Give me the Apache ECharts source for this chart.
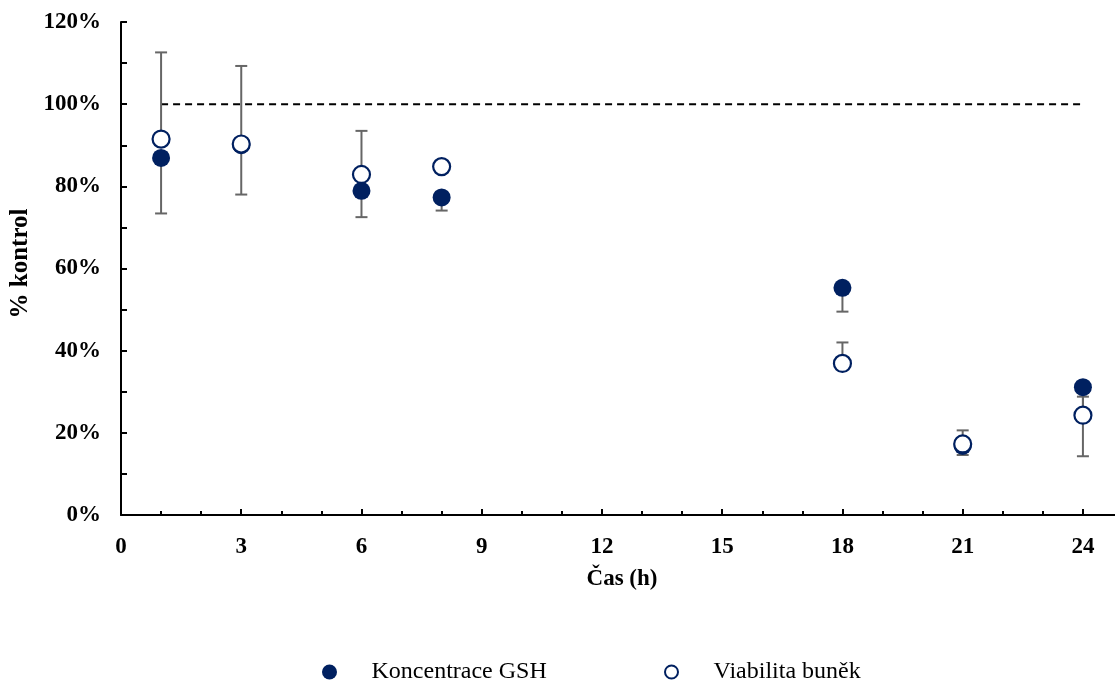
<!DOCTYPE html>
<html>
<head>
<meta charset="utf-8">
<script src="https://cdn.jsdelivr.net/npm/echarts@6/dist/echarts.min.js"></script>
<style>html,body{margin:0;padding:0;background:#fff;overflow:hidden}#chart{width:1115px;height:684px}</style>
</head>
<body>
<div id="chart"></div>
<script>
// Time points (h)
var times = [1, 3, 6, 8, 18, 21, 24];
// Koncentrace GSH (% kontrol) and its (minus) error
var gshValues = [86.9, 90.0, 78.9, 77.3, 55.3, 16.8, 31.1];
var gshErr = [13.5, 12.0, 6.4, 3.2, 5.8, 2.2, 16.8];
// Viabilita buněk (% kontrol) and its (plus) error
var viaValues = [91.5, 90.3, 82.9, 84.8, 36.9, 17.3, 24.3];
var viaErr = [21.1, 19.0, 10.6, 0.8, 5.1, 3.3, 4.5];
// Reference line at 100 %
var refLine = [[1, 100], [24, 100]];
var xTicks = [0, 3, 6, 9, 12, 15, 18, 21, 24];
var yTicks = [0, 20, 40, 60, 80, 100, 120];

var NAVY = '#002060';
var FONT = '"Liberation Serif", "Times New Roman", serif';

function pairs(vals) { return times.map(function (t, i) { return [t, vals[i]]; }); }
var gshBars = times.map(function (t, i) { return [t, gshValues[i], gshValues[i] - gshErr[i]]; });
var viaBars = times.map(function (t, i) { return [t, viaValues[i], viaValues[i] + viaErr[i]]; });

function renderBar(params, api) {
  var x = api.value(0);
  var from = api.coord([x, api.value(1)]);
  var to = api.coord([x, api.value(2)]);
  var cap = 6;
  var st = { stroke: '#666666', lineWidth: 2 };
  return {
    type: 'group',
    children: [
      { type: 'line', shape: { x1: from[0], y1: from[1], x2: to[0], y2: to[1] }, style: st },
      { type: 'line', shape: { x1: to[0] - cap, y1: to[1], x2: to[0] + cap, y2: to[1] }, style: st }
    ]
  };
}

var chart = echarts.init(document.getElementById('chart'), null, { renderer: 'canvas' });
chart.setOption({
  animation: false,
  backgroundColor: '#ffffff',
  textStyle: { fontFamily: FONT },
  grid: { left: 121, top: 22, width: 1002, height: 493, outerBoundsMode: 'none', containLabel: false },
  xAxis: {
    type: 'value', min: 0, max: 25, interval: 3,
    name: 'Čas (h)', nameLocation: 'middle', nameGap: 53,
    nameTextStyle: { fontFamily: FONT, fontWeight: 'bold', fontSize: 23, color: '#000' },
    axisLine: { lineStyle: { color: '#000', width: 2 } },
    axisTick: { inside: true, length: 6, lineStyle: { color: '#000', width: 2 } },
    minorTick: { show: true, splitNumber: 3, length: 4, lineStyle: { color: '#000', width: 2 } },
    splitLine: { show: false },
    axisLabel: {
      margin: 21, fontFamily: FONT, fontWeight: 'bold', fontSize: 23, color: '#000',
      formatter: function (v) { return xTicks.indexOf(v) >= 0 ? String(v) : ''; }
    }
  },
  yAxis: {
    type: 'value', min: 0, max: 120, interval: 20,
    name: '% kontrol', nameLocation: 'middle', nameGap: 87, nameRotate: 90,
    nameTextStyle: { fontFamily: FONT, fontWeight: 'bold', fontSize: 25, color: '#000', padding: [0, 0, 0, 10] },
    axisLine: { show: true, lineStyle: { color: '#000', width: 2 } },
    axisTick: { show: true, inside: true, length: 6, lineStyle: { color: '#000', width: 2 } },
    minorTick: { show: true, splitNumber: 2, length: 6, lineStyle: { color: '#000', width: 2 } },
    splitLine: { show: false },
    axisLabel: {
      margin: 20, fontFamily: FONT, fontWeight: 'bold', fontSize: 23, color: '#000',
      formatter: function (v) { return yTicks.indexOf(v) >= 0 ? v + '%' : ''; }
    }
  },
  legend: [
    {
      data: ['Koncentrace GSH'], left: 317, top: 655, orient: 'horizontal',
      itemWidth: 74, itemHeight: 15, itemGap: 0,
      textStyle: { fontFamily: FONT, fontSize: 24, color: '#000' }
    },
    {
      data: ['Viabilita buněk'], left: 659, top: 655, orient: 'horizontal',
      itemWidth: 74, itemHeight: 13, itemGap: 0,
      textStyle: { fontFamily: FONT, fontSize: 24, color: '#000' }
    }
  ],
  series: [
    {
      type: 'line', data: refLine, symbol: 'none', silent: true, z: 1,
      lineStyle: { color: '#000', width: 2, type: [7, 5] }
    },
    { type: 'custom', data: gshBars, renderItem: renderBar, z: 2, silent: true },
    { type: 'custom', data: viaBars, renderItem: renderBar, z: 2, silent: true },
    {
      name: 'Koncentrace GSH', type: 'scatter', data: pairs(gshValues), z: 3,
      symbol: 'circle', symbolSize: 18,
      itemStyle: { color: NAVY, opacity: 1 }
    },
    {
      name: 'Viabilita buněk', type: 'scatter', data: pairs(viaValues), z: 4,
      symbol: 'circle', symbolSize: 17,
      itemStyle: { color: '#ffffff', borderColor: NAVY, borderWidth: 2.2, opacity: 1 }
    }
  ]
});
</script>
</body>
</html>
